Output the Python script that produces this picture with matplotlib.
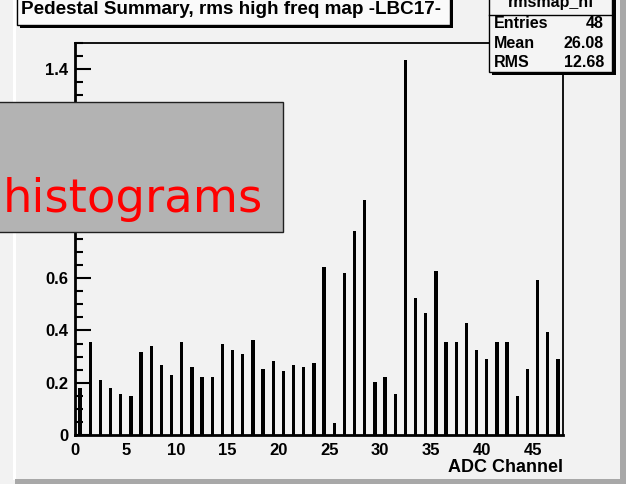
import matplotlib
matplotlib.use("Agg")
import matplotlib.pyplot as plt
from matplotlib.patches import Rectangle
from matplotlib.ticker import MultipleLocator

# ---- data ----
channels = list(range(48))
rms_values = [0.178, 0.354, 0.211, 0.181, 0.157, 0.148, 0.316, 0.339, 0.268, 0.228,
              0.356, 0.260, 0.221, 0.221, 0.348, 0.324, 0.309, 0.363, 0.252, 0.284,
              0.244, 0.268, 0.260, 0.277, 0.644, 0.045, 0.621, 0.780, 0.901, 0.204,
              0.221, 0.157, 1.434, 0.524, 0.468, 0.628, 0.356, 0.356, 0.427, 0.324,
              0.292, 0.356, 0.356, 0.148, 0.252, 0.595, 0.395, 0.292]
title_text = "Pedestal Summary, rms high freq map -LBC17-"
x_label = "ADC Channel"
stats_name = "rmsmap_hf"
stats_labels = ["Entries", "Mean", "RMS"]
stats_values = ["48", "26.08", "12.68"]
overlay_text = "histograms"

W, H = 626, 484
BG = "#f2f2f2"
fig = plt.figure(figsize=(W / 100, H / 100), dpi=100, facecolor=BG)


def fx(x):
    return x / W


def fy(y):
    return 1 - y / H


def rect(x0, y0, x1, y1, **kw):
    r = Rectangle((fx(x0), fy(y1)), fx(x1) - fx(x0), fy(y0) - fy(y1),
                  transform=fig.transFigure, **kw)
    fig.add_artist(r)
    return r


# canvas bevel
rect(13, 0, 16, 480, facecolor="white", edgecolor="none", zorder=0.5)
rect(15, 479, 626, 484, facecolor="#a8a8a8", edgecolor="none", zorder=0.5)
rect(620, 0, 626, 484, facecolor="#a8a8a8", edgecolor="none", zorder=0.5)

# axes
L, R, T, B = 75, 563, 43, 435
ax = fig.add_axes([fx(L), fy(B), fx(R) - fx(L), fy(T) - fy(B)], zorder=1)
ax.set_facecolor(BG)
centers = [c + 0.5 for c in channels]
ax.bar(centers, rms_values, width=0.32, color="black", edgecolor="none")
ax.set_xlim(0, 48)
ax.set_ylim(0, 1.5)
for s in ["left", "bottom"]:
    ax.spines[s].set_linewidth(2.0)
for s in ["top", "right"]:
    ax.spines[s].set_linewidth(1.3)

ax.xaxis.set_major_locator(MultipleLocator(5))
ax.yaxis.set_major_locator(MultipleLocator(0.2))
ax.yaxis.set_minor_locator(MultipleLocator(0.05))
ax.tick_params(axis="both", which="both", direction="in", top=False, right=False)
ax.tick_params(axis="y", which="major", length=11.5, width=1.5, pad=5)
ax.tick_params(axis="y", which="minor", length=6, width=1.5)
ax.tick_params(axis="x", which="major", length=0, width=0, pad=6)
ax.tick_params(axis="x", which="minor", length=0)

ax.set_yticks([0, 0.2, 0.4, 0.6, 0.8, 1.0, 1.2, 1.4])
ax.set_yticklabels(["0", "0.2", "0.4", "0.6", "0.8", "1", "1.2", "1.4"])
for lab in ax.get_xticklabels() + ax.get_yticklabels():
    lab.set_fontfamily("Liberation Sans")
    lab.set_fontweight("bold")
    lab.set_fontsize(12)

fig.text(fx(563), fy(467), x_label, ha="right", va="center",
         fontfamily="Liberation Sans", fontweight="bold", fontsize=13, zorder=3)

# title box with shadow
rect(20, -5, 453, 28, facecolor="black", edgecolor="none", zorder=4)
rect(17, -5, 450, 25, facecolor="#fafafa", edgecolor="black", linewidth=1.0, zorder=4.1)
fig.text(fx(21), fy(10), title_text, ha="left", va="center",
         fontfamily="Liberation Sans", fontweight="bold", fontsize=13.6, zorder=5)

# stats box with shadow
rect(492, -5, 616, 75, facecolor="black", edgecolor="none", zorder=4)
rect(489, -5, 612, 72, facecolor="#f4f4f4", edgecolor="black", linewidth=1.0, zorder=4.1)
fig.add_artist(plt.Line2D([fx(489), fx(612)], [fy(14.5), fy(14.5)],
                          transform=fig.transFigure, color="black", lw=1.0, zorder=4.2))
fig.text(fx(551), fy(2), stats_name, ha="center", va="center",
         fontfamily="Liberation Sans", fontweight="bold", fontsize=11.5, zorder=5)
row_y = [24, 43.5, 62.5]
for lab, val, yy in zip(stats_labels, stats_values, row_y):
    fig.text(fx(494), fy(yy), lab, ha="left", va="center",
             fontfamily="Liberation Sans", fontweight="bold", fontsize=11.5, zorder=5)
    fig.text(fx(604), fy(yy), val, ha="right", va="center",
             fontfamily="Liberation Sans", fontweight="bold", fontsize=11.5, zorder=5)

# overlay box
rect(-2, 101.5, 283, 231.5, facecolor="#b3b3b3", edgecolor="#202020", linewidth=1.0, zorder=10)
fig.text(fx(3), fy(211.5), overlay_text, ha="left", va="baseline",
         fontfamily="DejaVu Sans", fontsize=33.5, color="red", zorder=11)

fig.savefig("out.png", dpi=100, facecolor=BG)
